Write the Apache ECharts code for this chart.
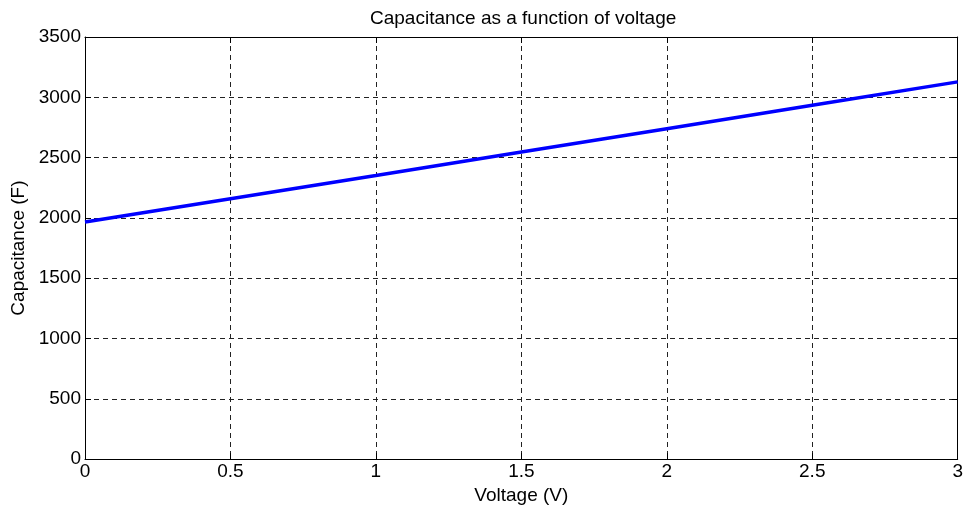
<!DOCTYPE html>
<html>
<head>
<meta charset="utf-8">
<script src="https://cdn.jsdelivr.net/npm/echarts@6/dist/echarts.min.js"></script>
<style>
  html, body { margin: 0; padding: 0; background: #fff; }
  #chart { width: 966px; height: 510px; }
</style>
</head>
<body>
<div id="chart"></div>
<script>
// Capacitance versus voltage
const voltage = [0, 0.5, 1, 1.5, 2, 2.5, 3];
const capacitance = [1966, 2159, 2352, 2546, 2740, 2934, 3128];
const xTicks = [0, 0.5, 1, 1.5, 2, 2.5, 3];
const yTicks = [0, 500, 1000, 1500, 2000, 2500, 3000, 3500];

const FONT = 'Liberation Sans, Arial, sans-serif';
const FS = 19;

const chart = echarts.init(document.getElementById('chart'), null, { renderer: 'canvas' });

const dashed = { show: true, lineStyle: { color: '#222', width: 1, type: [5, 4] } };

const baseX = {
  type: 'value', min: xTicks[0], max: xTicks[xTicks.length - 1], interval: 0.5,
  axisLine: { show: true, onZero: false, lineStyle: { color: '#000', width: 1 } },
  axisTick: { show: true, inside: true, length: 6, lineStyle: { color: '#000' } }
};
const baseY = {
  type: 'value', min: yTicks[0], max: yTicks[yTicks.length - 1], interval: 500,
  axisLine: { show: true, onZero: false, lineStyle: { color: '#000', width: 1 } },
  axisTick: { show: true, inside: true, length: 6, lineStyle: { color: '#000' } }
};

chart.setOption({
  animation: false,
  backgroundColor: '#fff',
  title: {
    text: 'Capacitance as a function of voltage',
    left: 365, top: 4,
    textStyle: { fontFamily: FONT, fontSize: FS, fontWeight: 'normal', color: '#000' }
  },
  grid: { left: 85, right: 4, top: 37, bottom: 47, containLabel: false },
  xAxis: [
    Object.assign({}, baseX, {
      position: 'bottom',
      name: 'Voltage (V)', nameLocation: 'middle', nameGap: 24,
      nameTextStyle: { fontFamily: FONT, fontSize: FS, color: '#000' },
      axisLabel: { fontFamily: FONT, fontSize: FS, color: '#000', margin: 3,
        formatter: v => String(v) },
      splitLine: dashed
    }),
    Object.assign({}, baseX, {
      position: 'top', axisLabel: { show: false }, splitLine: { show: false }
    })
  ],
  yAxis: [
    Object.assign({}, baseY, {
      position: 'left',
      name: 'Capacitance (F)', nameLocation: 'middle', nameGap: 50, nameRotate: 90,
      nameTextStyle: { fontFamily: FONT, fontSize: FS, color: '#000' },
      axisLabel: { fontFamily: FONT, fontSize: FS, color: '#000', margin: 4,
        formatter: v => String(v) },
      splitLine: dashed
    }),
    Object.assign({}, baseY, {
      position: 'right', axisLabel: { show: false }, splitLine: { show: false }
    })
  ],
  series: [{
    type: 'line',
    data: voltage.map((v, i) => [v, capacitance[i]]),
    showSymbol: false,
    lineStyle: { color: '#0000ff', width: 3.5 },
    z: 5
  }]
});
</script>
</body>
</html>
